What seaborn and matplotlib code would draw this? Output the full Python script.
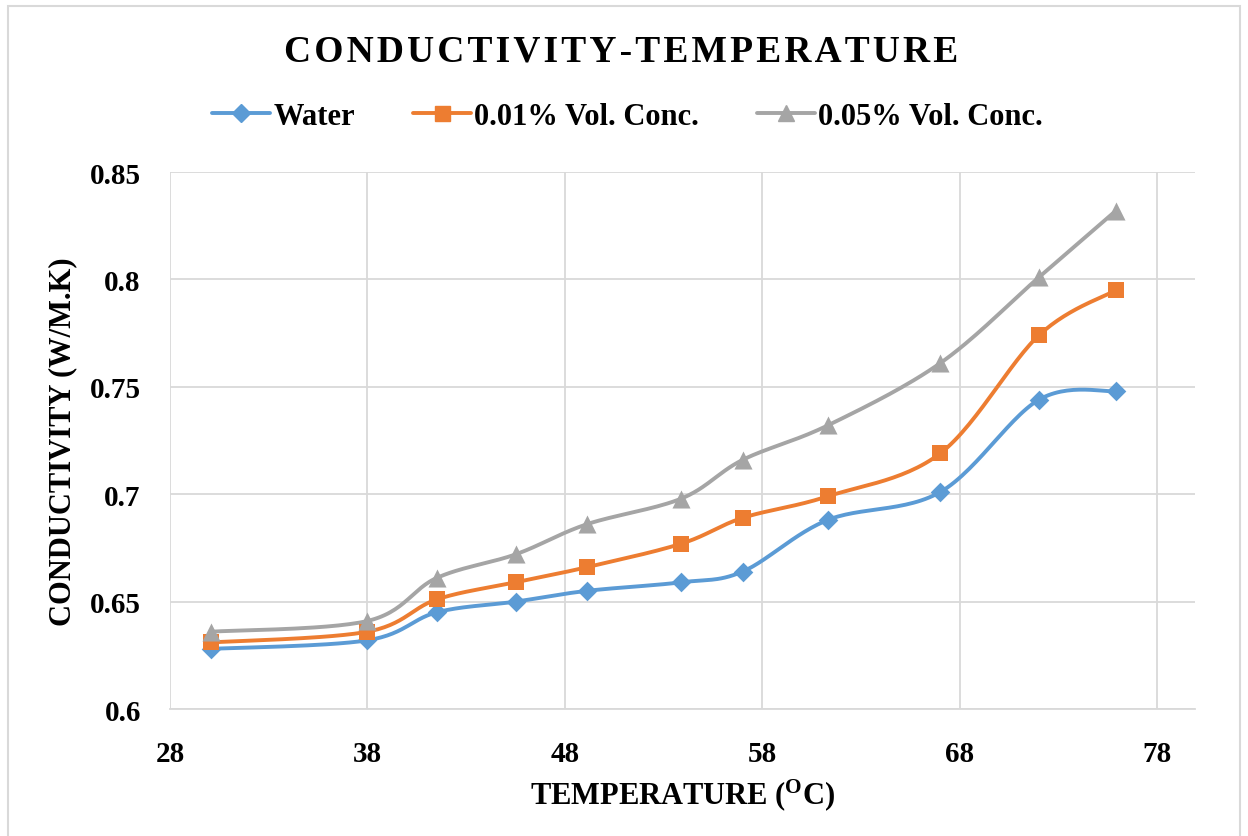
import numpy as np
import pandas as pd
import matplotlib
matplotlib.use("Agg")
import matplotlib.pyplot as plt
from matplotlib.lines import Line2D
from matplotlib.patches import Rectangle
import seaborn as sns

# ---- data ----
temperature = [30.1, 38.0, 41.5, 45.5, 49.1, 53.9, 57.0, 61.3, 67.0, 72.0, 75.9]
water = [0.628, 0.632, 0.645, 0.650, 0.655, 0.659, 0.664, 0.688, 0.701, 0.744, 0.748]
conc_001 = [0.631, 0.636, 0.651, 0.659, 0.666, 0.677, 0.689, 0.699, 0.719, 0.774, 0.795]
conc_005 = [0.636, 0.641, 0.661, 0.672, 0.686, 0.698, 0.716, 0.732, 0.761, 0.801, 0.832]
series_names = ["Water", "0.01% Vol. Conc.", "0.05% Vol. Conc."]
x_ticks = [28, 38, 48, 58, 68, 78]
y_ticks = [0.6, 0.65, 0.7, 0.75, 0.8, 0.85]
y_tick_labels = ["0.6", "0.65", "0.7", "0.75", "0.8", "0.85"]

colors = ["#5B9BD5", "#ED7D31", "#A5A5A5"]
markers = ["D", "s", "^"]
msizes = [10, 12, 13]

sns.set_theme(style="white")
plt.rcParams["font.family"] = ["Liberation Serif", "DejaVu Serif"]
plt.rcParams["font.weight"] = "bold"
plt.rcParams["text.color"] = "black"
plt.rcParams["axes.labelcolor"] = "black"
plt.rcParams["xtick.color"] = "black"
plt.rcParams["ytick.color"] = "black"
plt.rcParams["mathtext.fontset"] = "custom"
plt.rcParams["mathtext.rm"] = "Liberation Serif:bold"
plt.rcParams["mathtext.it"] = "Liberation Serif:bold"
plt.rcParams["mathtext.bf"] = "Liberation Serif:bold"


def excel_smooth(xs, ys, n=30):
    """Bezier smoothing like Excel's smoothed line (Catmull-Rom style)."""
    xs = np.asarray(xs, float)
    ys = np.asarray(ys, float)
    P = np.column_stack([xs, ys])
    out = []
    m = len(P)
    for i in range(m - 1):
        p0 = P[i - 1] if i > 0 else P[i]
        p1 = P[i]
        p2 = P[i + 1]
        p3 = P[i + 2] if i + 2 < m else P[i + 1]
        c1 = p1 + (p2 - p0) / 6.0
        c2 = p2 - (p3 - p1) / 6.0
        t = np.linspace(0, 1, n)[:, None]
        seg = ((1 - t) ** 3) * p1 + 3 * ((1 - t) ** 2) * t * c1 + 3 * (1 - t) * t ** 2 * c2 + t ** 3 * p2
        if i > 0:
            seg = seg[1:]
        out.append(seg)
    out = np.vstack(out)
    return out[:, 0], out[:, 1]


fig = plt.figure(figsize=(12.48, 8.37), dpi=100)
ax = fig.add_axes([0.1362, 0.1517, 0.8213, 0.6416])

all_series = [water, conc_001, conc_005]
curve_frames = []
for name, vals in zip(series_names, all_series):
    sx, sy = excel_smooth(temperature, vals)
    curve_frames.append(pd.DataFrame({"T": sx, "k": sy, "series": name}))
curves = pd.concat(curve_frames, ignore_index=True)
points = pd.concat([pd.DataFrame({"T": temperature, "k": v, "series": n})
                    for n, v in zip(series_names, all_series)], ignore_index=True)

palette = dict(zip(series_names, colors))
sns.lineplot(data=curves, x="T", y="k", hue="series", palette=palette, sort=False,
             estimator=None, units="series", linewidth=2.8, legend=False, ax=ax, zorder=3)
for name, mk, ms in zip(series_names, markers, msizes):
    sub = points[points["series"] == name]
    sns.scatterplot(data=sub, x="T", y="k", color=palette[name], marker=mk,
                    s=ms ** 2, edgecolor=palette[name], linewidth=0, legend=False,
                    ax=ax, zorder=4)

ax.set_xlim(28, 79.9)
ax.set_ylim(0.6, 0.85)
ax.set_xticks(x_ticks)
ax.set_xticklabels([str(v) for v in x_ticks])
ax.set_yticks(y_ticks)
ax.set_yticklabels(y_tick_labels)
ax.tick_params(axis="both", length=0, labelsize=21, colors="black")
ax.tick_params(axis="y", pad=21)
ax.tick_params(axis="x", pad=22)
for lab in ax.get_xticklabels() + ax.get_yticklabels():
    lab.set_fontweight("bold")
ax.grid(True, color="#D9D9D9", linewidth=1.3)
ax.set_axisbelow(True)
for side in ["top", "right", "left"]:
    ax.spines[side].set_visible(False)
ax.spines["bottom"].set_color("#D9D9D9")
ax.spines["bottom"].set_linewidth(1.3)

ax.set_xlabel("TEMPERATURE ($^{\\mathrm{O}}$C)", fontsize=22, fontweight="bold", labelpad=7)
ax.set_ylabel("CONDUCTIVITY (W/M.K)", fontsize=22, fontweight="bold", labelpad=9)

fig.text(0.498, 0.938, "C O N D U C T I V I T Y - T E M P E R A T U R E".replace(" ", "\u200a"),
         ha="center", va="center", fontsize=27, fontweight="bold")

handles = [Line2D([0], [0], color=c, marker=m, markersize=ms * 0.9, linewidth=2.8)
           for c, m, ms in zip(colors, markers, msizes)]
leg = fig.legend(handles, series_names, loc="center", bbox_to_anchor=(0.503, 0.86), ncol=3,
                 frameon=False, prop={"family": "Liberation Serif", "weight": "bold", "size": 22},
                 handlelength=1.9, handletextpad=0.1, columnspacing=1.9)

fig.patches.append(Rectangle((8 / 1248, -0.01), (1240 - 8) / 1248, 1.01 - 7 / 837,
                             transform=fig.transFigure, fill=False, edgecolor="#D9D9D9",
                             linewidth=1.5))

fig.savefig("out.png", dpi=100)
